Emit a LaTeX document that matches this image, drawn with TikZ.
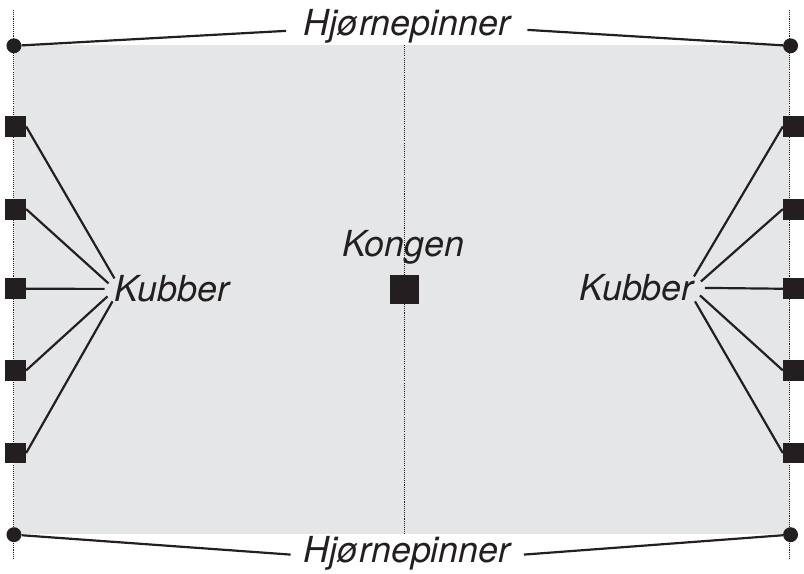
\documentclass[tikz,border=0pt]{standalone}
\usepackage{fontspec}
\setmainfont{TeX Gyre Heros}
\usepackage{xcolor}
\definecolor{boardgray}{RGB}{229,230,232}
\definecolor{kubbblack}{RGB}{35,31,32}
\tikzset{
  cornerpin/.style={circle,fill=kubbblack,inner sep=0pt,minimum size=11.25pt},
  kubbsq/.style={rectangle,fill=kubbblack,inner sep=0pt,minimum size=15.75pt},
  wire/.style={draw=kubbblack,line width=1.65pt},
  dotline/.style={draw=kubbblack,line width=0.8pt,dash pattern={on 0.8pt off 0.8pt}},
  lbl/.style={inner sep=0pt,text=kubbblack,font=\fontsize{27}{31}\selectfont\itshape}
}

\begin{document}
\begin{tikzpicture}[x=0.75pt,y=0.75pt,yscale=-1,xscale=1]
\path (0,0) rectangle (804,576); %set diagram size

%Shape: Rectangle [board]
\fill [boardgray] (14,45) rectangle (793,536);
%Straight Lines [dotted]
\draw [dotline] (14,10) -- (14,562);
\draw [dotline] (793,10) -- (793,562);
\draw [dotline] (406.5,45) -- (406.5,536);

%Shape: Circle [corner pins]
\node [cornerpin] (pinTL) at (14,46) {};
\node [cornerpin] (pinTR) at (794,46) {};
\node [cornerpin] (pinBL) at (14,537) {};
\node [cornerpin] (pinBR) at (794,537) {};

% Text Node
\node [lbl,inner xsep=12.75pt,anchor=base] (hjTop) at (408.5,36) {Hjørnepinner};
% Text Node
\node [lbl,inner xsep=9.75pt,anchor=base] (hjBot) at (409,565) {Hjørnepinner};
%Straight Lines
\draw [wire] (pinTL) -- ([shift={(0,-5)}]hjTop.base west);
\draw [wire] (pinTR) -- ([shift={(0,-6)}]hjTop.base east);
\draw [wire] (pinBL) -- ([shift={(0,-8)}]hjBot.base west);
\draw [wire] (pinBR) -- ([shift={(0,-8)}]hjBot.base east);

% Text Node
\node [lbl,anchor=base west] (kubL) at (115,303) {Kubber};
% Text Node
\node [lbl,anchor=base east] (kubR) at (697,302) {Kubber};

%Shape: Square [left kubbs]
\foreach \n/\y/\dx/\dy in {1/127/0/-10.5, 2/210/-6/-5.5, 3/290/-10/0, 4/372/-7/7.5, 5/455/-2/12.5}{
  \node [kubbsq] (kl\n) at (15.5,\y) {};
  \draw [wire] (kl\n.east) -- ([shift={(\dx,\dy)}]kubL.west);
}
%Shape: Square [right kubbs]
\foreach \n/\y/\dx/\dy in {1/127/0/-11.5, 2/210/7/-6.5, 3/290/11/0, 4/372/6/7.5, 5/455/1/13.5}{
  \node [kubbsq] (kr\n) at (797,\y) {};
  \draw [wire] (kr\n.west) -- ([shift={(\dx,\dy)}]kubR.east);
}

%Shape: Square [king]
\node [kubbsq,minimum size=21.75pt] (king) at (406.5,290.5) {};
% Text Node
\node [lbl,anchor=base] (kongen) at (405,258) {Kongen};

\end{tikzpicture}
\end{document}
